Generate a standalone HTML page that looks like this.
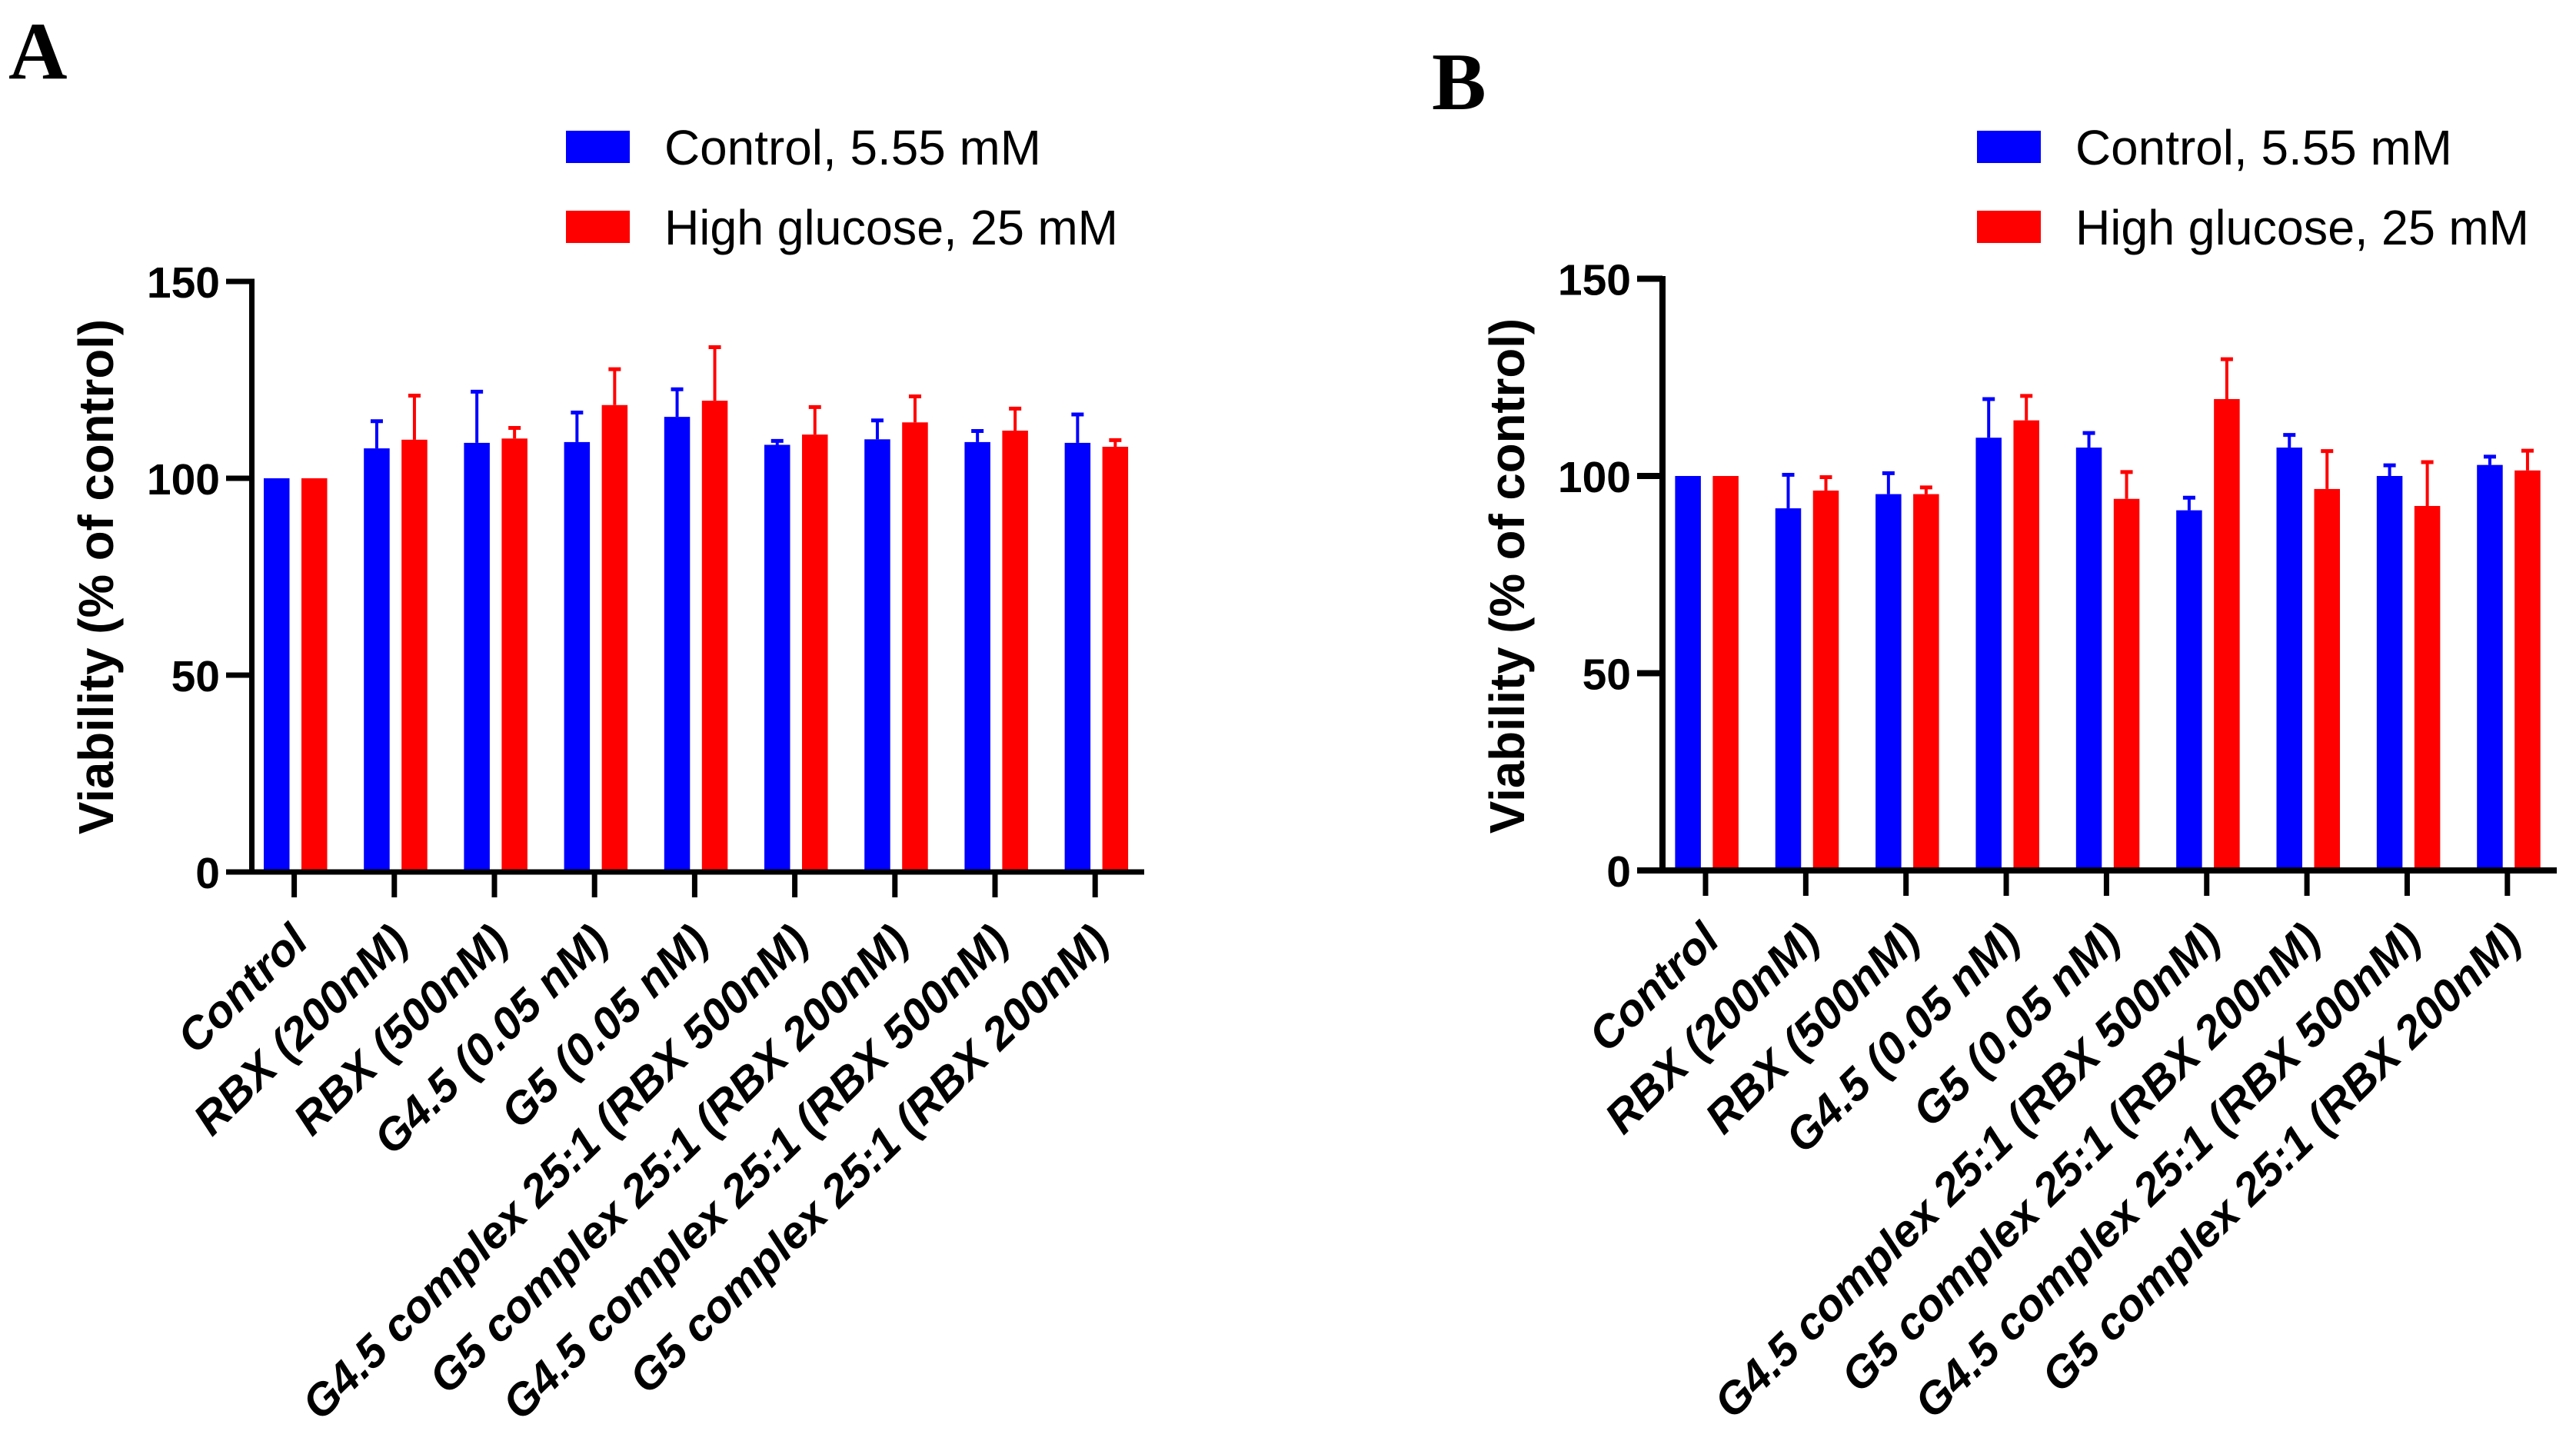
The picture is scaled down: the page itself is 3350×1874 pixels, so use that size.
<!DOCTYPE html>
<html lang="en">
<head>
<meta charset="utf-8">
<title>Viability bar charts</title>
<style>
html,body{margin:0;padding:0;background:#fff;}
svg{display:block;}
text{fill:#000;font-family:"Liberation Sans",Arial,sans-serif;}
.panel{font-weight:bold;font-size:106px;}
.leg{font-size:64px;}
.tick{font-size:57px;font-weight:bold;text-anchor:end;}
.title{font-size:63.6px;font-weight:bold;text-anchor:middle;}
.cat{font-size:58.5px;font-weight:bold;font-style:italic;text-anchor:end;}
</style>
</head>
<body>
<svg id="figure" xmlns="http://www.w3.org/2000/svg" width="3350" height="1874" viewBox="0 0 3350 1874">
<rect x="0" y="0" width="3350" height="1874" fill="#fff"/>
<text class="panel" style="font-family:'Liberation Serif',serif" x="11" y="102">A</text>
<text class="panel" style="font-family:'Liberation Serif',serif" x="1862" y="142">B</text>
<g>
<rect x="736" y="170" width="83" height="42" fill="#0000ff"/>
<text class="leg" x="864" y="214" textLength="490" lengthAdjust="spacingAndGlyphs">Control, 5.55 mM</text>
<rect x="736" y="274" width="83" height="42" fill="#ff0000"/>
<text class="leg" x="864" y="318" textLength="590" lengthAdjust="spacingAndGlyphs">High glucose, 25 mM</text>
</g>
<g>
<rect x="2571" y="170" width="83" height="42" fill="#0000ff"/>
<text class="leg" x="2699" y="214" textLength="490" lengthAdjust="spacingAndGlyphs">Control, 5.55 mM</text>
<rect x="2571" y="274" width="83" height="42" fill="#ff0000"/>
<text class="leg" x="2699" y="318" textLength="590" lengthAdjust="spacingAndGlyphs">High glucose, 25 mM</text>
</g>
</svg>
<script>
const categories = ["Control","RBX (200nM)","RBX (500nM)","G4.5 (0.05 nM)","G5 (0.05 nM)","G4.5 complex 25:1 (RBX 500nM)","G5 complex 25:1 (RBX 200nM)","G4.5 complex 25:1 (RBX 500nM)","G5 complex 25:1 (RBX 200nM)"];
const yTickValues = [0,50,100,150];
const yAxisTitle = "Viability (% of control)";

const controlA = [100,107.6,109,109.2,115.6,108.5,109.9,109.2,109];
const controlAErr = [0,6.9,13,7.5,7,1,4.8,2.8,7.2];
const glucoseA = [100,109.8,110.1,118.6,119.7,111.1,114.2,112.1,108];
const glucoseAErr = [0,11.2,2.7,9.1,13.6,7,6.6,5.6,1.7];

const controlB = [100,91.8,95.4,109.7,107.2,91.3,107.2,100,102.8];
const controlBErr = [0,8.5,5.3,9.8,3.7,3.2,3.2,2.7,2.1];
const glucoseB = [100,96.3,95.4,114.1,94.2,119.5,96.7,92.4,101.4];
const glucoseBErr = [0,3.4,1.7,6.2,6.8,10.1,9.6,11.1,5];

const NS = "http://www.w3.org/2000/svg";
const svg = document.getElementById("figure");

function make(tag, attrs, parent) {
  const node = document.createElementNS(NS, tag);
  for (const k in attrs) node.setAttribute(k, attrs[k]);
  parent.appendChild(node);
  return node;
}

function drawPanel(id, layout, ctrl, ctrlErr, gluc, glucErr) {
  const yScale = v => layout.y0 - v * layout.pxPerUnit;
  const xScale = i => layout.x0 + i * layout.step;

  const g = make("g", {}, svg);
  
  

  function drawBar(i, val, err, left, color, series) {
    const top = yScale(val);
    const bx = xScale(i) + left;
    const bar = make("rect", {x: bx, y: top, width: layout.barW, height: layout.y0 - top, fill: color}, g);
    
    
    if (err > 0) {
      const capY = yScale(val + err);
      const cx = bx + layout.barW / 2;
      const stem = make("line", {x1: cx, x2: cx, y1: top, y2: capY, stroke: color, "stroke-width": 4}, g);
      
      
      const cap = make("line", {x1: cx - 8, x2: cx + 8, y1: capY, y2: capY, stroke: color, "stroke-width": 5}, g);
      
      
    }
  }

  categories.forEach((name, i) => {
    drawBar(i, ctrl[i], ctrlErr[i], layout.blueLeft, "#0000ff", "control");
    drawBar(i, gluc[i], glucErr[i], layout.redLeft, "#ff0000", "high-glucose");
  });

  const yAxis = make("line", {x1: layout.axisX, x2: layout.axisX, y1: yScale(150) - 3.5, y2: layout.y0, stroke: "#000", "stroke-width": layout.axisW}, g);
  
  

  const xAxis = make("line", {x1: layout.xStart, x2: layout.xEnd, y1: layout.y0, y2: layout.y0, stroke: "#000", "stroke-width": layout.axisW}, g);
  
  

  yTickValues.forEach(v => {
    const y = yScale(v);
    const tick = make("line", {x1: layout.xStart, x2: layout.axisX, y1: y, y2: y, stroke: "#000", "stroke-width": layout.axisW}, g);
    
    
    const label = make("text", {"class": "tick", x: layout.tickRight, y: y + 21}, g);
    
    
    label.textContent = v;
  });

  categories.forEach((name, i) => {
    const x = xScale(i);
    const tick = make("line", {x1: x, x2: x, y1: layout.y0, y2: layout.y0 + 33, stroke: "#000", "stroke-width": 7}, g);
    
    
    const ax = x + layout.catDx, ay = layout.y0 + layout.catDy;
    const label = make("text", {"class": "cat", x: ax, y: ay, transform: "rotate(-44.3 " + ax + " " + ay + ")"}, g);
    
    
    label.textContent = name;
  });

  const title = make("text", {"class": "title", x: layout.titleX, y: layout.titleY, transform: "rotate(-90 " + layout.titleX + " " + layout.titleY + ")"}, g);
  
  
  title.textContent = yAxisTitle;
}

const layoutA = {y0: 1134, pxPerUnit: 5.12, x0: 382.6, step: 130.2, barW: 33.5, blueLeft: -39.6, redLeft: 9.4, axisW: 7,
  axisX: 327.5, xStart: 294, xEnd: 1488, tickRight: 286, catDx: 21, catDy: 93.5, titleX: 147, titleY: 750};
const layoutB = {y0: 1132, pxPerUnit: 5.13, x0: 2218, step: 130.35, barW: 33.5, blueLeft: -39.6, redLeft: 9.4, axisW: 8,
  axisX: 2162, xStart: 2129, xEnd: 3325, tickRight: 2121, catDx: 21, catDy: 93.5, titleX: 1982, titleY: 749};

drawPanel("a", layoutA, controlA, controlAErr, glucoseA, glucoseAErr);
drawPanel("b", layoutB, controlB, controlBErr, glucoseB, glucoseBErr);
</script>
</body>
</html>
